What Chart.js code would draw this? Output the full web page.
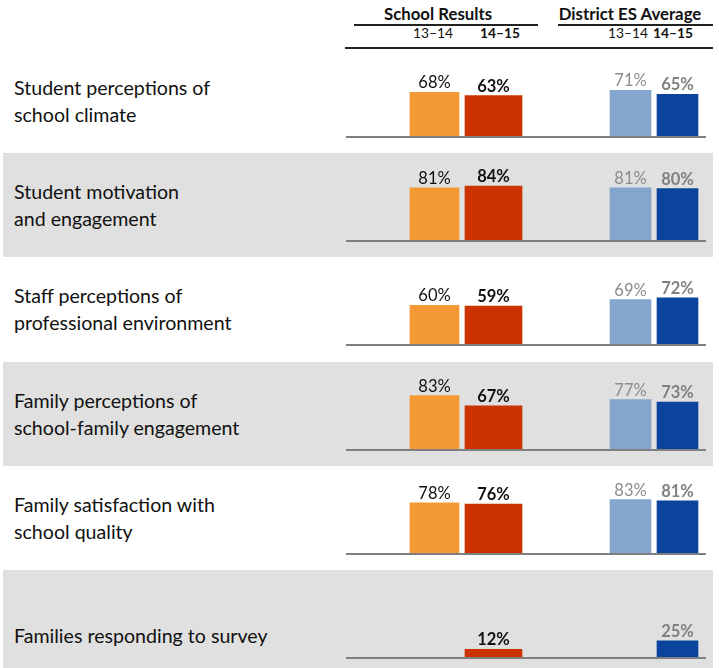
<!DOCTYPE html>
<html><head><meta charset="utf-8">
<script src="https://cdn.jsdelivr.net/npm/chart.js@4"></script>
<style>
html,body{margin:0;padding:0;background:#fff;}
#root{position:relative;width:719px;height:668px;overflow:hidden;font-family:Lato,"Open Sans",sans-serif;color:#111;}
.t{position:absolute;white-space:pre;line-height:1.2;}
.band{position:absolute;left:3px;width:710px;background:#e0e0e0;}
.ln{position:absolute;}
.cw{position:absolute;}
canvas{display:block;}
</style></head><body><div id="root"></div>
<script>
// ---- data ----
const categories = [
  ['Student perceptions of', 'school climate'],
  ['Student motivation', 'and engagement'],
  ['Staff perceptions of', 'professional environment'],
  ['Family perceptions of', 'school-family engagement'],
  ['Family satisfaction with', 'school quality'],
  ['Families responding to survey']
];
const groups = ['School Results', 'District ES Average'];
const periods = ['13–14', '14–15'];
const school1314 = [68, 81, 60, 83, 78, null];
const school1415 = [63, 84, 59, 67, 76, 12];
const district1314 = [71, 81, 69, 77, 83, null];
const district1415 = [65, 80, 72, 73, 81, 25];

// ---- layout helpers ----
const root = document.getElementById('root');
function text(str, x, baseline, size, weight, align, color) {
  const d = document.createElement('div');
  d.className = 't';
  d.textContent = str;
  d.style.fontSize = size + 'px';
  d.style.fontWeight = weight;
  d.style.color = color || '#111';
  d.style.top = (baseline - 0.987 * size) + 'px';
  if (align === 'center') { d.style.left = (x - 500) + 'px'; d.style.width = '1000px'; d.style.textAlign = 'center'; }
  else if (align === 'right') { d.style.left = (x - 1000) + 'px'; d.style.width = '1000px'; d.style.textAlign = 'right'; }
  else { d.style.left = x + 'px'; }
  root.appendChild(d);
}
function line(x1, x2, y, h, color) {
  const d = document.createElement('div');
  d.className = 'ln';
  d.style.left = x1 + 'px'; d.style.width = (x2 - x1) + 'px';
  d.style.top = y + 'px'; d.style.height = h + 'px';
  d.style.background = color;
  root.appendChild(d);
}

const ROW0 = 136, ROWSTEP = 104.2;
const baseOf = i => Math.round(ROW0 + ROWSTEP * i);

// bands (first, so they sit underneath)
categories.forEach((c, i) => {
  if (i % 2 === 1) {
    const B = baseOf(i);
    const d = document.createElement('div');
    d.className = 'band';
    d.style.top = (B - 87) + 'px';
    d.style.height = (i === categories.length - 1 ? 120 : 104) + 'px';
    root.appendChild(d);
  }
});

// header
text(groups[0], 438, 21, 16.8, 700, 'center', '#111');
text(groups[1], 630, 21, 16.8, 700, 'center', '#111');
line(354, 538, 24, 2, '#222');
line(558, 713, 24, 2, '#222');
text(periods[0], 413, 39, 13.8, 400, 'left', '#111');
text(periods[1], 480, 39, 13.8, 700, 'left', '#111');
text(periods[0], 608, 39, 13.8, 400, 'left', '#111');
text(periods[1], 653, 39, 13.8, 700, 'left', '#111');
line(345, 713, 47, 2, '#222');

// ---- charts ----
const CH = 90, YMAX = 140;
const valueLabels = {
  id: 'valueLabels',
  afterDatasetsDraw(chart) {
    const ctx = chart.ctx;
    chart.data.datasets.forEach((ds, di) => {
      const meta = chart.getDatasetMeta(di);
      meta.data.forEach((el, idx) => {
        const v = ds.data[idx];
        if (v === null || v === undefined) return;
        ctx.save();
        ctx.font = ds.lblWeight + ' 16.5px Lato, "Open Sans", sans-serif';
        ctx.fillStyle = ds.lblColor;
        ctx.textAlign = 'center';
        ctx.textBaseline = 'alphabetic';
        ctx.fillText(v + '%', el.x, el.y - 4);
        ctx.restore();
      });
    });
  }
};

function makeChart(left, width, B, v1, v2, colors, thick, lblColors, lblWeights) {
  const wrap = document.createElement('div');
  wrap.className = 'cw';
  wrap.style.left = left + 'px';
  wrap.style.top = (B - CH) + 'px';
  wrap.style.width = width + 'px';
  wrap.style.height = CH + 'px';
  const c = document.createElement('canvas');
  c.width = width; c.height = CH;
  wrap.appendChild(c);
  root.appendChild(wrap);
  new Chart(c, {
    type: 'bar',
    data: {
      labels: periods,
      datasets: [
        { label: periods[0], data: [v1, null], backgroundColor: colors[0], barThickness: thick[0], grouped: false, lblColor: lblColors[0], lblWeight: lblWeights[0] },
        { label: periods[1], data: [null, v2], backgroundColor: colors[1], barThickness: thick[1], grouped: false, lblColor: lblColors[1], lblWeight: lblWeights[1] }
      ]
    },
    options: {
      responsive: false,
      animation: false,
      layout: { padding: 0 },
      plugins: { legend: { display: false }, tooltip: { enabled: false } },
      scales: {
        x: { type: 'category', display: false, offset: true },
        y: { display: false, min: 0, max: YMAX }
      }
    },
    plugins: [valueLabels]
  });
}

categories.forEach((lines, i) => {
  const B = baseOf(i);
  // row label
  if (lines.length === 2) {
    text(lines[0], 14, B - 41, 19.6, 400, 'left', '#111');
    text(lines[1], 14, B - 14, 19.6, 400, 'left', '#111');
  } else {
    text(lines[0], 14, B - 14, 19.6, 400, 'left', '#111');
  }
  makeChart(405, 118, B, school1314[i], school1415[i], ['#F49A34', '#CC3300'], [49, 57], ['#111', '#111'], ['400', '700']);
  makeChart(607, 94, B, district1314[i], district1415[i], ['#84A5CE', '#0B449C'], [41, 41], ['#8C8C8C', '#808080'], ['400', '700']);
  line(346, 706, B, 2, '#7F7F7F');
});
</script>
</body></html>
